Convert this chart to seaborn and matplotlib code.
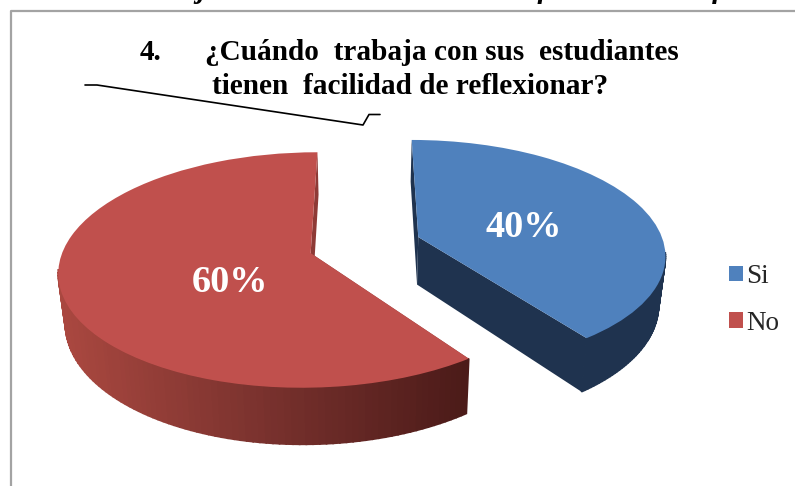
import numpy as np
import matplotlib
matplotlib.use('Agg')
import matplotlib.pyplot as plt
import seaborn as sns
from matplotlib.patches import Polygon
from matplotlib.transforms import Transform

categories = ['Si', 'No']
values = [40, 60]
colors = ['#4F81BD', '#C0504D']
title_num = '4.'
title_line1 = '¿Cuándo  trabaja con sus  estudiantes'
title_line2 = 'tienen  facilidad de reflexionar?'
top_fragment = '5. Cuando Trabaja con sus estudiantes tiene facilidad de reflexionar'

# view of the pie plane, in output pixels
CX, CY = 365, 245
A, B, K = 246, 113, 0.142
DEPTH, SHRINK = 48, 0.977
EXPLODE = 0.23


def project(x, y, low=False):
    x, y = np.asarray(x, float), np.asarray(y, float)
    w = 1 + K * y
    px = A * x / w
    py = -B * y / w
    if low:
        px = px * SHRINK
        py = py + DEPTH / w
    return CX + px, CY + py


class Perspective(Transform):
    input_dims = 2
    output_dims = 2

    def transform_non_affine(self, xy):
        px, py = project(xy[:, 0], xy[:, 1])
        return np.column_stack([px, py])


def wall(ax, x0, y0, x1, y1, color, z, lw=1.2):
    top = project([x0, x1], [y0, y1])
    low = project([x0, x1], [y0, y1], low=True)
    pts = [(top[0][0], top[1][0]), (top[0][1], top[1][1]),
           (low[0][1], low[1][1]), (low[0][0], low[1][0])]
    ax.add_patch(Polygon(pts, closed=True, fc=color, ec=color, lw=lw, zorder=z))


sns.set_theme(style='white')
plt.rcParams['font.family'] = ['Liberation Serif', 'DejaVu Serif']

fig = plt.figure(figsize=(7.95, 4.86), dpi=100)
ax = fig.add_axes([0, 0, 1, 1])

wedges, texts, autotexts = ax.pie(values, colors=colors, startangle=90, counterclock=False,
                                  explode=[EXPLODE, EXPLODE], autopct='%d%%',
                                  textprops=dict(color='white', fontweight='bold', fontsize=27.5))
ax.set_aspect('auto')
ax.set_xlim(0, 795)
ax.set_ylim(486, 0)
ax.axis('off')

cut_colors = ['#1F334F', '#8E3A36']
side_colors = [sns.blend_palette(['#1F334F', '#1F334F'], 80),
               sns.blend_palette(['#AA4840', '#7A322E', '#4C1B19'], 80)]

persp = Perspective()
for w, cut, side in zip(wedges, cut_colors, side_colors):
    cx, cy = w.center
    t = np.radians(np.linspace(w.theta1, w.theta2, 160))
    ex, ey = cx + np.cos(t), cy + np.sin(t)

    # straight cut faces first, then the rim, then the top on top of them
    wall(ax, cx, cy, ex[0], ey[0], cut, 1, lw=0)
    wall(ax, cx, cy, ex[-1], ey[-1], cut, 1, lw=0)
    xs = project(ex, ey)[0]
    for i in range(len(t) - 1):
        # the far part of the rim is hidden behind the top
        if np.sin(t[i]) > -0.15 and np.sin(t[i + 1]) > -0.15:
            continue
        pos = (0.5 * (xs[i] + xs[i + 1]) - 57) / (461 - 57)
        idx = int(np.clip(pos, 0, 1) * (len(side) - 1))
        wall(ax, ex[i], ey[i], ex[i + 1], ey[i + 1], side[idx], 2)

    w.set_transform(persp + ax.transData)
    w.set_zorder(3)
    w.set_linewidth(0)

autotexts[0].set_position((524, 227))
autotexts[1].set_position((230, 282))
for a in autotexts:
    a.set_zorder(5)
    a.set_ha('center')
    a.set_va('center')

# frame of the pasted chart, open on the right and at the bottom
ax.plot([11, 11, 795], [486, 11, 11], color='#A3A3A3', lw=1.6, zorder=4)

ax.text(140, 60, title_num, fontsize=21.1, fontweight='bold', color='black')
ax.text(205, 60, title_line1, fontsize=21.1, fontweight='bold', color='black')
ax.text(212, 94, title_line2, fontsize=21.1, fontweight='bold', color='black')
ax.text(-10, -2, top_fragment, fontsize=21.3, fontweight='bold', style='italic', color='black')

# leader line left over from the source document
ax.plot([85, 97, 363, 369, 380], [85, 85, 125, 114.5, 114.5], color='black', lw=1.2, zorder=4)

ax.legend(wedges, categories, loc='center left', bbox_to_anchor=(729 / 795, 1 - 300 / 486),
          frameon=False, fontsize=19.5, handlelength=0.52, handleheight=0.52,
          handletextpad=0.12, labelspacing=0.8, borderpad=0, borderaxespad=0)

fig.savefig('out.png', dpi=100, facecolor='white')
